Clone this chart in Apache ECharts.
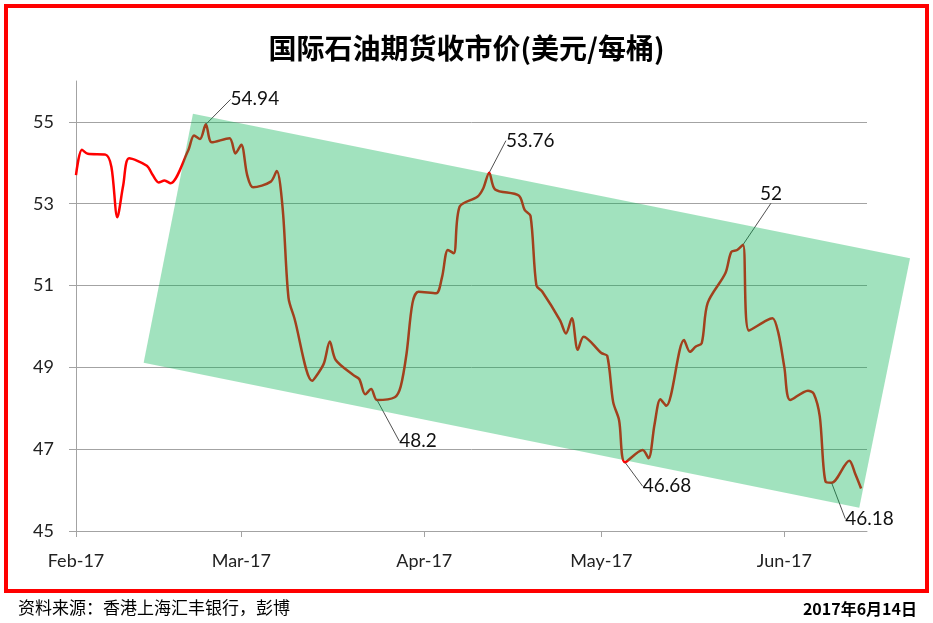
<!DOCTYPE html>
<html><head><meta charset="utf-8">
<script src="https://cdn.jsdelivr.net/npm/echarts@6/dist/echarts.min.js"></script>
<style>html,body{margin:0;padding:0;background:#fff}#c{width:933px;height:623px}</style>
</head><body><div id="c"></div>
<script>
const chartTitle = '国际石油期货收市价(美元/每桶)';
const sourceNote = '资料来源：香港上海汇丰银行，彭博';
const dateNote = '2017年6月14日';

const dates = [
 '2017-02-01','2017-02-02','2017-02-03','2017-02-06','2017-02-07','2017-02-08','2017-02-09','2017-02-10',
 '2017-02-13','2017-02-14','2017-02-15','2017-02-16','2017-02-17','2017-02-20','2017-02-21','2017-02-22',
 '2017-02-23','2017-02-24','2017-02-27','2017-02-28',
 '2017-03-01','2017-03-02','2017-03-03','2017-03-06','2017-03-07','2017-03-08','2017-03-09','2017-03-10',
 '2017-03-13','2017-03-14','2017-03-15','2017-03-16','2017-03-17','2017-03-20','2017-03-21','2017-03-22',
 '2017-03-23','2017-03-24','2017-03-27','2017-03-28','2017-03-29','2017-03-30','2017-03-31',
 '2017-04-03','2017-04-04','2017-04-05','2017-04-06','2017-04-07','2017-04-10','2017-04-11','2017-04-12',
 '2017-04-13','2017-04-17','2017-04-18','2017-04-19','2017-04-20','2017-04-21','2017-04-24','2017-04-25',
 '2017-04-26','2017-04-27','2017-04-28',
 '2017-05-01','2017-05-02','2017-05-03','2017-05-04','2017-05-05','2017-05-08','2017-05-09','2017-05-10',
 '2017-05-11','2017-05-12','2017-05-15','2017-05-16','2017-05-17','2017-05-18','2017-05-19','2017-05-22',
 '2017-05-23','2017-05-24','2017-05-25','2017-05-26','2017-05-29','2017-05-30','2017-05-31',
 '2017-06-01','2017-06-02','2017-06-05','2017-06-06','2017-06-07','2017-06-08','2017-06-09','2017-06-12',
 '2017-06-13','2017-06-14'
];
const prices = [
 53.70, 54.32, 54.22, 54.20, 53.90, 52.67, 53.45, 54.11,
 53.93, 53.70, 53.52, 53.57, 53.50, 54.30, 54.67, 54.58,
 54.94, 54.50, 54.60, 54.23,
 54.44, 53.70, 53.40, 53.54, 53.80, 52.90, 50.70, 50.20,
 48.67, 48.85, 49.10, 49.63, 49.18, 48.81, 48.71, 48.34,
 48.47, 48.2, 48.27, 48.53, 49.34, 50.57, 50.85,
 50.81, 51.20, 51.87, 51.79, 52.93, 53.17, 53.38, 53.76,
 53.35, 53.20, 52.85, 52.70, 51.00, 50.85, 50.15, 49.83,
 50.20, 49.43, 49.75,
 49.35, 49.28, 48.15, 47.71, 46.68, 46.98, 46.78, 47.60,
 48.22, 48.06, 49.67, 49.38, 49.51, 49.59, 50.57, 51.30,
 51.82, 51.87, 52, 49.90, 50.15, 50.20, 49.83,
 49.00, 48.20, 48.43, 48.35, 47.80, 46.20, 46.18, 46.72,
 46.40, 46.04
];
const annotatedDates = ['2017-02-23','2017-03-24','2017-04-12','2017-05-05','2017-05-25','2017-06-09'];
const channelCorners = [
 ['2017-02-20 19:30', 55.20], ['2017-06-22 07:00', 51.67],
 ['2017-06-13 16:30', 45.57], ['2017-02-12 11:00', 49.11]
];
const monthTicks = ['2017-02-01','2017-03-01','2017-04-01','2017-05-01','2017-06-01'];
const monthLabels = ['Feb-17','Mar-17','Apr-17','May-17','Jun-17'];
const yTicks = [45, 47, 49, 51, 53, 55];
const xRange = ['2017-02-01', '2017-06-15'];
const yRange = [45, 56];

// label offsets (px) for annotated points, in annotatedDates order
const labelOffsets = [[49,-25],[41,41],[41,-32],[42,24],[28,-51],[38,36]];

const t = s => echarts.time.parse(s).getTime();
const monthTickTimes = monthTicks.map(t);
const gridColor = '#a3a3a3';

const lineData = dates.map((d, i) => ({
  value: [t(d), prices[i]],
  label: { show: annotatedDates.indexOf(d) >= 0 }
}));

const chart = echarts.init(document.getElementById('c'), null, { renderer: 'canvas' });
chart.setOption({
  animation: false,
  backgroundColor: '#fff',
  title: {
    text: chartTitle, left: 'center', top: 29,
    textStyle: { fontFamily: 'Noto Sans CJK SC', fontWeight: 'bold', fontSize: 28, color: '#000' }
  },
  grid: { left: 76, right: 66, top: 81, bottom: 92, containLabel: false, outerBoundsMode: 'none' },
  xAxis: {
    type: 'value', min: t(xRange[0]), max: t(xRange[1]),
    axisLine: { show: true, lineStyle: { color: gridColor, width: 1 } },
    axisTick: { show: true, length: 6, customValues: monthTickTimes, lineStyle: { color: gridColor } },
    axisLabel: {
      customValues: monthTickTimes, margin: 21, fontFamily: 'Lato', fontSize: 18, color: '#222',
      formatter: v => { const k = monthTickTimes.indexOf(v); return k >= 0 ? monthLabels[k] : ''; }
    },
    splitLine: { show: false }
  },
  yAxis: {
    type: 'value', min: yRange[0], max: yRange[1],
    axisLine: { show: true, lineStyle: { color: gridColor, width: 1 } },
    axisTick: { show: true, length: 7, customValues: yTicks, lineStyle: { color: gridColor } },
    axisLabel: { customValues: yTicks, margin: 22, fontFamily: 'Lato', fontSize: 18, color: '#222' },
    splitLine: { show: true, lineStyle: { color: gridColor, width: 1 } }
  },
  series: [
    {
      type: 'line', z: 2, data: lineData, smooth: 0.3,
      showSymbol: true, showAllSymbol: true, symbol: 'circle', symbolSize: 1,
      itemStyle: { color: 'rgba(0,0,0,0)' },
      lineStyle: { color: '#ff0000', width: 2.5 },
      emphasis: { disabled: true }, silent: true,
      label: {
        show: false, position: 'inside', fontFamily: 'Lato', fontSize: 19, color: '#111',
        formatter: p => String(p.value[1])
      },
      labelLine: { show: true, lineStyle: { color: '#505050', width: 1 } },
      labelLayout: p => {
        const k = annotatedDates.indexOf(dates[p.dataIndex]);
        if (k < 0) return {};
        return { dx: labelOffsets[k][0], dy: labelOffsets[k][1] };
      }
    },
    {
      type: 'custom', z: 5, silent: true, clip: false,
      data: [[t(channelCorners[0][0]), channelCorners[0][1]]],
      renderItem: (params, api) => {
        const pts = channelCorners.map(c => api.coord([t(c[0]), c[1]]));
        return { type: 'polygon', shape: { points: pts }, style: { fill: 'rgba(0,176,80,0.37)' } };
      }
    }
  ],
  graphic: [
    { type: 'rect', shape: { x: 6, y: 6, width: 921, height: 585 },
      style: { fill: null, stroke: '#ff0000', lineWidth: 4 }, silent: true },
    { type: 'text', x: 18, y: 608, style: { text: sourceNote, fontFamily: 'Noto Sans CJK SC', fontSize: 17, fill: '#000', verticalAlign: 'middle', align: 'left' } },
    { type: 'text', x: 917, y: 609, style: { text: dateNote, fontFamily: 'Noto Sans CJK SC', fontWeight: 'bold', fontSize: 16, fill: '#000', verticalAlign: 'middle', align: 'right' } }
  ]
});
</script>
</body></html>
